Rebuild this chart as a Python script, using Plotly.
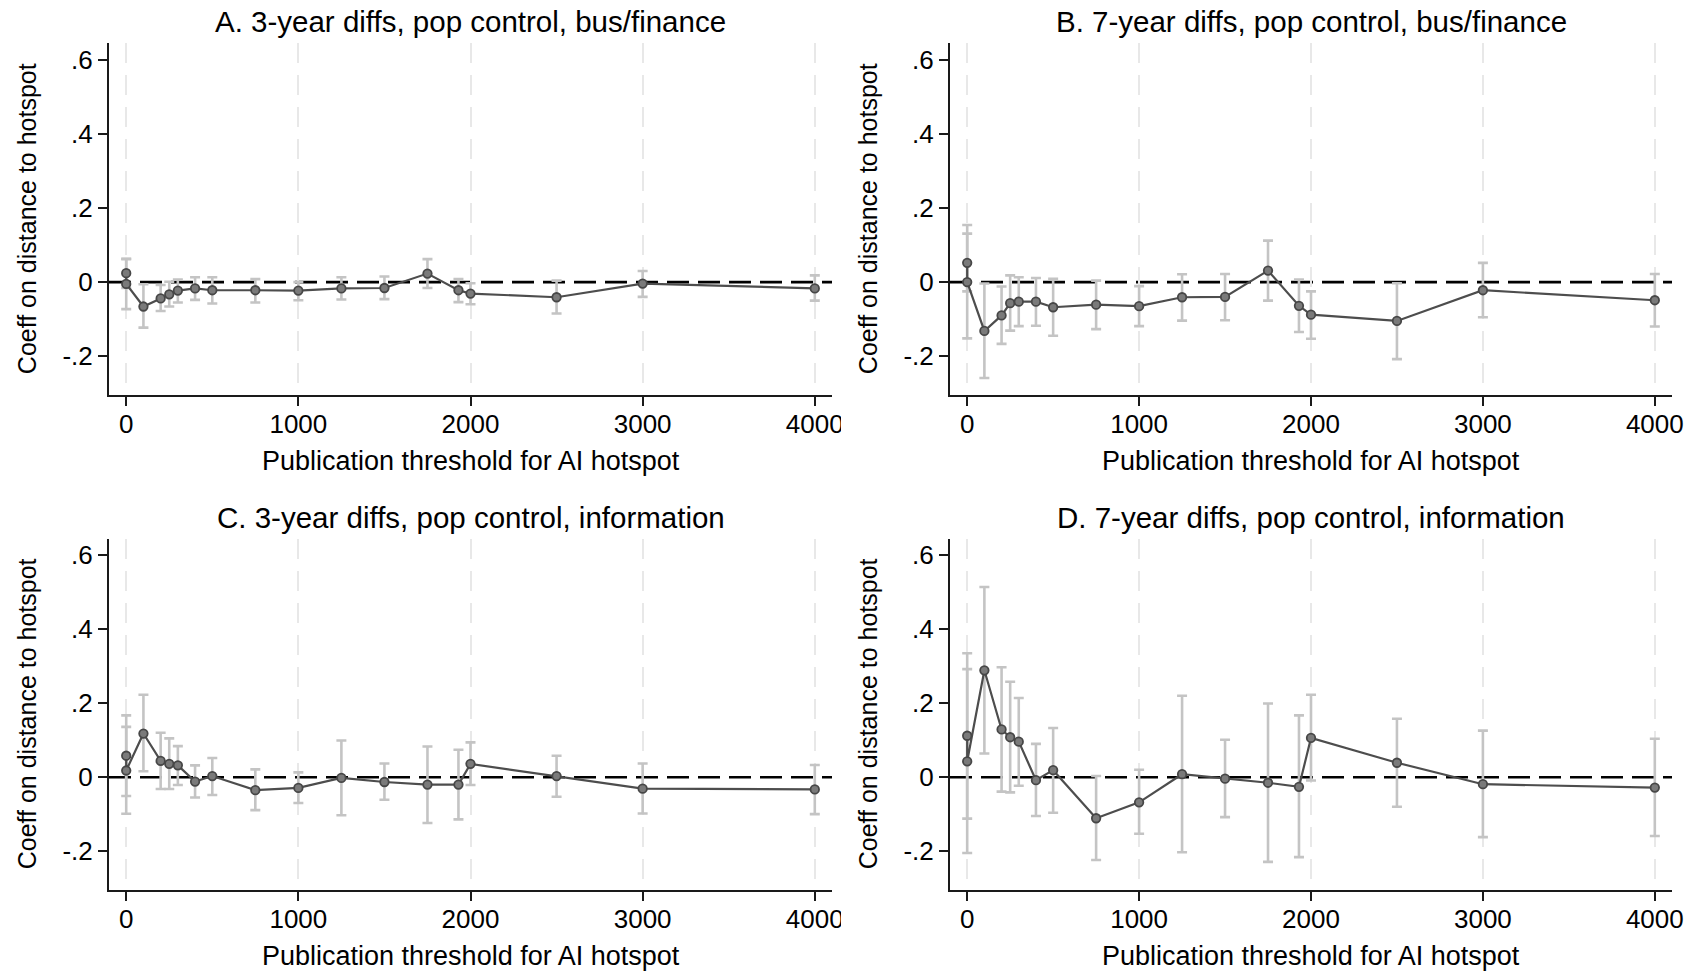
import plotly.graph_objects as go

# ---------------- data ----------------
thresholds = [0, 0, 100, 200, 250, 300, 400, 500, 750, 1000, 1250, 1500, 1750, 1930, 2000, 2500, 3000, 4000]

panel_titles = [
    "A. 3-year diffs, pop control, bus/finance",
    "B. 7-year diffs, pop control, bus/finance",
    "C. 3-year diffs, pop control, information",
    "D. 7-year diffs, pop control, information",
]

A_coef = [0.024, -0.005, -0.066, -0.044, -0.033, -0.023, -0.017, -0.022, -0.022, -0.023, -0.017, -0.016, 0.023, -0.022, -0.031, -0.041, -0.004, -0.017]
A_lo = [-0.016, -0.073, -0.123, -0.078, -0.066, -0.055, -0.048, -0.058, -0.055, -0.049, -0.047, -0.046, -0.016, -0.054, -0.060, -0.085, -0.040, -0.050]
A_hi = [0.063, 0.062, -0.006, -0.008, 0.001, 0.007, 0.013, 0.013, 0.008, 0.000, 0.013, 0.015, 0.062, 0.008, -0.003, 0.004, 0.030, 0.018]

B_coef = [0.052, 0.000, -0.132, -0.090, -0.057, -0.053, -0.053, -0.068, -0.061, -0.065, -0.041, -0.040, 0.031, -0.064, -0.088, -0.105, -0.022, -0.049]
B_lo = [-0.025, -0.152, -0.259, -0.167, -0.131, -0.119, -0.118, -0.145, -0.127, -0.119, -0.104, -0.103, -0.050, -0.135, -0.153, -0.208, -0.095, -0.120]
B_hi = [0.131, 0.154, -0.004, -0.012, 0.018, 0.013, 0.011, 0.009, 0.004, -0.011, 0.021, 0.022, 0.112, 0.007, -0.025, -0.003, 0.052, 0.022]

C_coef = [0.058, 0.018, 0.118, 0.044, 0.036, 0.032, -0.012, 0.003, -0.035, -0.029, -0.002, -0.013, -0.020, -0.020, 0.036, 0.003, -0.031, -0.033]
C_lo = [-0.051, -0.099, 0.016, -0.032, -0.032, -0.021, -0.055, -0.048, -0.089, -0.070, -0.103, -0.061, -0.124, -0.114, -0.021, -0.053, -0.098, -0.100]
C_hi = [0.167, 0.136, 0.223, 0.120, 0.105, 0.084, 0.032, 0.052, 0.021, 0.013, 0.099, 0.037, 0.083, 0.074, 0.094, 0.058, 0.037, 0.033]

D_coef = [0.112, 0.043, 0.289, 0.129, 0.108, 0.096, -0.008, 0.019, -0.111, -0.068, 0.008, -0.004, -0.015, -0.026, 0.106, 0.039, -0.019, -0.028]
D_lo = [-0.112, -0.205, 0.064, -0.039, -0.041, -0.023, -0.105, -0.096, -0.224, -0.153, -0.203, -0.108, -0.229, -0.216, -0.009, -0.080, -0.162, -0.159]
D_hi = [0.335, 0.292, 0.514, 0.297, 0.258, 0.214, 0.090, 0.133, 0.003, 0.020, 0.220, 0.101, 0.199, 0.167, 0.223, 0.158, 0.126, 0.104]

x_tickvals = [0, 1000, 2000, 3000, 4000]
x_ticktext = ["0", "1000", "2000", "3000", "4000"]
y_tickvals = [-0.2, 0, 0.2, 0.4, 0.6]
y_ticktext = ["-.2", "0", ".2", ".4", ".6"]

x_title = "Publication threshold for AI hotspot"
y_title = "Coeff on distance to hotspot"

panels = [(A_coef, A_lo, A_hi), (B_coef, B_lo, B_hi), (C_coef, C_lo, C_hi), (D_coef, D_lo, D_hi)]

# ---------------- layout geometry ----------------
W, H = 1702, 971
FONT = "Liberation Sans, Arial, Helvetica, sans-serif"
x_domains = [[109 / W, 832 / W], [950 / W, 1672 / W]]
y_domains = [[1 - 395 / H, 1 - 43.3 / H], [1 - 890 / H, 1 - 538.6 / H]]

fig = go.Figure()
layout = dict(
    template="none",
    width=W, height=H, autosize=False,
    margin=dict(l=0, r=0, t=0, b=0, pad=0, autoexpand=False),
    paper_bgcolor="white", plot_bgcolor="white",
    showlegend=False,
    font=dict(family=FONT, color="black"),
)

annotations = []
shapes = []
for i, (coef, lo, hi) in enumerate(panels):
    row, col = divmod(i, 2)
    sfx = "" if i == 0 else str(i + 1)
    xa, ya = "x" + sfx, "y" + sfx

    err_plus = [h - c for h, c in zip(hi, coef)]
    err_minus = [c - l for c, l in zip(coef, lo)]

    # confidence intervals (drawn first, underneath)
    fig.add_trace(go.Scatter(
        x=thresholds, y=coef, mode="markers", xaxis=xa, yaxis=ya,
        marker=dict(size=1, opacity=0),
        error_y=dict(type="data", array=err_plus, arrayminus=err_minus,
                     color="#c4c4c4", thickness=2.6, width=5, visible=True),
        hoverinfo="skip",
    ))
    # connected point estimates
    fig.add_trace(go.Scatter(
        x=thresholds, y=coef, mode="lines+markers", xaxis=xa, yaxis=ya,
        line=dict(color="#4d4d4d", width=2.2),
        marker=dict(symbol="circle", size=8.5, color="#7a7a7a",
                    line=dict(color="#474747", width=1.8)),
    ))

    axis_common = dict(showline=True, linecolor="#1a1a1a", linewidth=2, mirror=False,
                       ticks="outside", ticklen=9, tickwidth=2, tickcolor="#1a1a1a",
                       tickfont=dict(size=26, family=FONT, color="black"),
                       zeroline=False, automargin=False)
    layout["xaxis" + sfx] = dict(
        domain=x_domains[col], anchor=ya, range=[-100, 4100],
        tickvals=x_tickvals, ticktext=x_ticktext, ticklabelstandoff=-4,
        showgrid=True, gridcolor="#e8e8e8", gridwidth=2.2, griddash="20px,12px",
        **axis_common)
    layout["yaxis" + sfx] = dict(
        domain=y_domains[row], anchor=xa, range=[-0.305, 0.645],
        tickvals=y_tickvals, ticktext=y_ticktext, showgrid=False,
        **axis_common)

    x0, x1 = x_domains[col]
    y0, y1 = y_domains[row]
    xc = (x0 + x1) / 2
    annotations.append(dict(text=panel_titles[i], xref="paper", yref="paper",
                            x=xc, y=y1 + 21.5 / H, xanchor="center", yanchor="middle",
                            showarrow=False, font=dict(size=29.5, family=FONT, color="black")))
    annotations.append(dict(text=x_title, xref="paper", yref="paper",
                            x=xc, y=y0 - 66 / H, xanchor="center", yanchor="middle",
                            showarrow=False, font=dict(size=27, family=FONT, color="black")))
    annotations.append(dict(text=y_title, xref="paper", yref="paper",
                            x=x0 - 82 / W, y=(y0 + y1) / 2, xanchor="center", yanchor="middle",
                            textangle=-90, showarrow=False,
                            font=dict(size=25, family=FONT, color="black")))

    # dashed zero reference line across the panel
    shapes.append(dict(type="line", xref=xa + " domain", yref=ya, x0=0, x1=1, y0=0, y1=0,
                       line=dict(color="black", width=2.6, dash="22px,9px"), layer="below"))

    # left-column panels: the original graph cell clips the last tick label
    if col == 0:
        shapes.append(dict(type="rect", xref="paper", yref="paper",
                           x0=841 / W, x1=900 / W, y0=y0 - 50 / H, y1=y0 - 12 / H,
                           fillcolor="white", line=dict(width=0), layer="above"))

layout["annotations"] = annotations
layout["shapes"] = shapes
fig.update_layout(**layout)

fix_page = (
    "document.documentElement.style.overflow='hidden';"
    "document.body.style.margin='0';document.body.style.overflow='hidden';"
    "var gd=document.getElementById('{plot_id}');"
    "gd.style.position='fixed';gd.style.left='0px';gd.style.top='0px';"
)
fig.write_html("out.html", config={"displayModeBar": False, "responsive": False},
               post_script=fix_page)
